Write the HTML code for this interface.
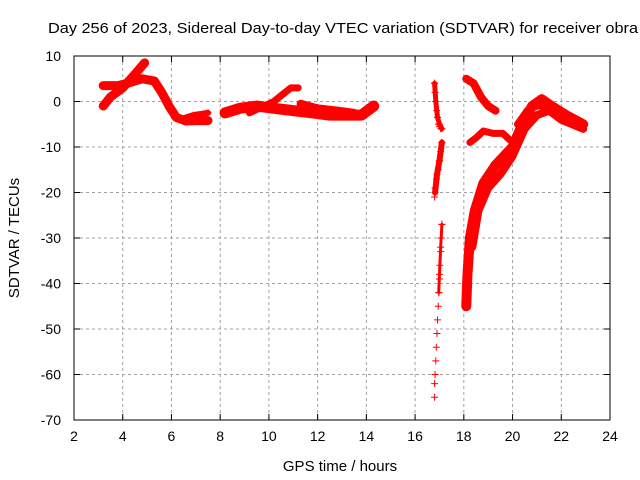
<!DOCTYPE html>
<html><head><meta charset="utf-8"><style>
body{margin:0;background:#fff}
svg{display:block;font-family:"Liberation Sans",Arial,sans-serif}
</style></head><body>
<svg id="chart" width="640" height="480" viewBox="0 0 640 480" xmlns="http://www.w3.org/2000/svg">
<rect width="640" height="480" fill="#fff"/>
<text x="48" y="33" font-size="15" textLength="590" lengthAdjust="spacingAndGlyphs">Day 256 of 2023, Sidereal Day-to-day VTEC variation (SDTVAR) for receiver obra</text>
<g id="grid"></g>
<g id="axes"></g>
<g id="series"></g>
<text x="340" y="471" font-size="15" text-anchor="middle">GPS time / hours</text>
<text transform="translate(19,238) rotate(-90)" font-size="15" text-anchor="middle">SDTVAR / TECUs</text>
</svg>
<script>
const xTicks = [2,4,6,8,10,12,14,16,18,20,22,24];
const yTicks = [10,0,-10,-20,-30,-40,-50,-60,-70];
// dense arcs: [hour, TECU]
const arcDense1 = [[3.2,-1],[3.5,1],[4.0,3],[4.5,6],[4.9,8.5]];
const arcDense2 = [[3.2,3.5],[3.8,3.5],[4.2,4],[4.8,5],[5.3,4.5],[5.6,2],[5.9,-1],[6.2,-3.5],[6.6,-4.3],[7.0,-4.2],[7.5,-4.2]];
const arcDense3 = [[6.3,-4],[6.9,-3],[7.5,-2.5]];
const arcDense4 = [[8.2,-2.5],[8.8,-1.5],[9.5,-1],[10.2,-1.5],[11.0,-2],[11.8,-2.5],[12.5,-3],[13.2,-3],[13.8,-3],[14.3,-1]];
const arcDense5 = [[9.2,-2.5],[10.2,0],[10.9,3],[11.2,3]];
const arcDense6 = [[11.3,-0.5],[12.0,-1.5],[12.8,-2],[13.5,-2.5]];
const arcDense7 = [[18.1,5],[18.4,4],[18.7,1],[19.0,-1],[19.3,-2]];
const arcDense8 = [[18.25,-9],[18.5,-8],[18.8,-6.5],[19.2,-7],[19.6,-7],[19.9,-8.5]];
const arcDense9 = [[18.1,-45],[18.15,-38],[18.25,-30],[18.45,-24],[18.8,-18],[19.3,-14],[20.0,-10],[20.4,-5],[20.8,-1],[21.2,0.5],[21.6,-1],[22.2,-3],[22.9,-5]];
const arcDense10 = [[18.35,-32],[18.6,-24],[19.0,-19],[19.5,-16],[20.0,-12],[20.5,-6],[21.0,-3],[21.5,-2],[22.0,-4],[22.9,-6]];
const arcDense11 = [[20.2,-5],[20.6,-2],[21.0,-1],[21.4,-1]];
const arcDense12 = [[16.8,4],[16.85,0],[16.92,-3.5],[17.0,-5],[17.1,-6]];
const arcDense13 = [[17.1,-9],[17.0,-13],[16.9,-16],[16.82,-20]];
const arcDense14 = [[17.1,-27],[17.05,-32],[17.0,-38],[16.97,-42]];
// sparse arcs
const arcSparse1 = [[16.8,4],[16.82,2],[16.85,0],[16.88,-2],[16.92,-3.5],[16.96,-5],[17.0,-5.5],[17.05,-6]];
const arcSparse2 = [[17.1,-9],[17.05,-11],[17.0,-13],[16.95,-15],[16.88,-17],[16.82,-19],[16.8,-21]];
const arcSparse3 = [[17.1,-27],[17.07,-30],[17.05,-33],[17.02,-36],[17.0,-39],[16.98,-42],[16.95,-45],[16.92,-48],[16.9,-51],[16.87,-54],[16.85,-57],[16.82,-60],[16.8,-62],[16.8,-65]];
const arcSparse4 = [[18.1,-45],[18.1,-42],[18.12,-40],[18.15,-37],[18.18,-34],[18.22,-31]];
const denseArcs = [arcDense1,arcDense2,arcDense3,arcDense4,arcDense5,arcDense6,arcDense7,arcDense8,arcDense9,arcDense10,arcDense11,arcDense12,arcDense13,arcDense14];
const denseWidths = [9,9,6,11,7,8,8,7,10,8,7,5,6,3];
const sparseArcs = [arcSparse1,arcSparse2,arcSparse3,arcSparse4];

const L=74,R=610,T=56,B=420;
const xs=h=>L+(h-2)/22*(R-L);
const ys=v=>T+(10-v)/80*(B-T);
const NS="http://www.w3.org/2000/svg";
function mk(tag,parent,attrs){const e=document.createElementNS(NS,tag);for(const k in attrs)e.setAttribute(k,attrs[k]);parent.appendChild(e);return e;}
const grid=document.getElementById('grid'),axes=document.getElementById('axes'),ser=document.getElementById('series');
xTicks.forEach(t=>{const x=xs(t);
 if(t>2&&t<24){const g=mk('line',grid,{x1:x,x2:x,y1:T,y2:B,stroke:'#a0a0a0','stroke-dasharray':'3,3'});
 
 }
 mk('line',axes,{x1:x,x2:x,y1:B,y2:B-6,stroke:'#000'});
 mk('line',axes,{x1:x,x2:x,y1:T,y2:T+6,stroke:'#000'});
 const tx=mk('text',axes,{x:x,y:B+21,'font-size':14,'text-anchor':'middle'});tx.textContent=t;
 
 
});
yTicks.forEach(t=>{const y=ys(t);
 if(t<10&&t>-70){const g=mk('line',grid,{x1:L,x2:R,y1:y,y2:y,stroke:'#a0a0a0','stroke-dasharray':'3,3'});
 
 }
 mk('line',axes,{x1:L,x2:L+6,y1:y,y2:y,stroke:'#000'});
 mk('line',axes,{x1:R,x2:R-6,y1:y,y2:y,stroke:'#000'});
 const tx=mk('text',axes,{x:L-13,y:y+5,'font-size':14,'text-anchor':'end'});tx.textContent=t;
 
 
});
mk('rect',axes,{x:L,y:T,width:R-L,height:B-T,fill:'none',stroke:'#000'});
function plus(p,x,y){mk('path',p,{d:`M${x-3.5},${y}h7M${x},${y-3.5}v7`,stroke:'#f00','stroke-width':1});}
denseArcs.forEach((a,i)=>{
 const pl=mk('polyline',ser,{points:a.map(p=>xs(p[0])+','+ys(p[1])).join(' '),fill:'none',stroke:'#f00','stroke-width':denseWidths[i],'stroke-linejoin':'round','stroke-linecap':'round'});
 
 
 a.forEach(p=>plus(ser,xs(p[0]),ys(p[1])));
});
sparseArcs.forEach(a=>{
 const g=mk('g',ser,{});
 
 
 a.forEach(p=>plus(g,xs(p[0]),ys(p[1])));
});
</script>
</body></html>
